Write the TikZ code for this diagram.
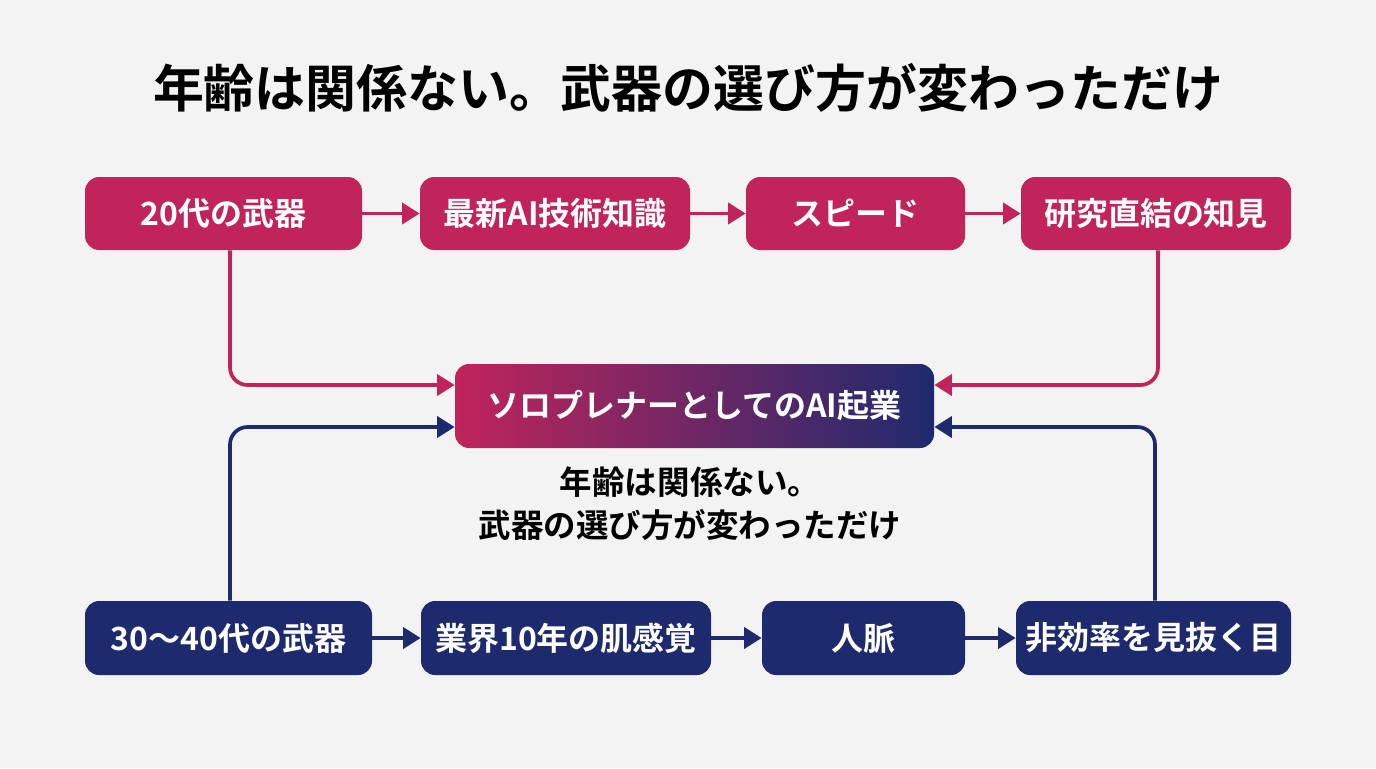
\documentclass[tikz,border=0pt]{standalone}
\usepackage{fontspec}
\setmainfont{Noto Sans CJK JP}[BoldFont={Noto Sans CJK JP Bold}]
\usetikzlibrary{arrows.meta}
\definecolor{crim}{HTML}{C0245A}
\definecolor{navy}{HTML}{1E2A6E}
\definecolor{bg}{HTML}{F3F3F3}
\begin{document}
\begin{tikzpicture}[x=0.02cm,y=-0.02cm,
  box/.style={rounded corners=8pt,text=white,font=\bfseries\fontsize{18.2}{21}\selectfont,inner sep=0pt},
  rb/.style={box,fill=crim},
  nb/.style={box,fill=navy},
  ra/.style={draw=crim,line width=2.1pt,-{Triangle[length=10pt,width=12pt]},rounded corners=10pt},
  na/.style={draw=navy,line width=2.1pt,-{Triangle[length=10pt,width=12pt]},rounded corners=10pt}]
\fill[bg] (0,0) rectangle (1376,768);
\useasboundingbox (0,0) rectangle (1376,768);
\node[font=\bfseries\fontsize{29}{34}\selectfont] (title) at (688,88) {年齢は関係ない。武器の選び方が変わっただけ};
% top row
\node[rb,minimum width=277*0.02cm,minimum height=73*0.02cm] (t1) at (223.5,213.5) {20代の武器};
\node[rb,minimum width=270*0.02cm,minimum height=73*0.02cm] (t2) at (555,213.5) {最新AI技術知識};
\node[rb,minimum width=219*0.02cm,minimum height=73*0.02cm] (t3) at (855.5,213.5) {スピード};
\node[rb,minimum width=270*0.02cm,minimum height=73*0.02cm] (t4) at (1156,213.5) {研究直結の知見};
% bottom row
\node[nb,minimum width=287*0.02cm,minimum height=74*0.02cm] (b1) at (228.5,638) {30〜40代の武器};
\node[nb,minimum width=290*0.02cm,minimum height=74*0.02cm] (b2) at (566,638) {業界10年の肌感覚};
\node[nb,minimum width=203*0.02cm,minimum height=74*0.02cm] (b3) at (863.5,638) {人脈};
\node[nb,minimum width=275*0.02cm,minimum height=74*0.02cm] (b4) at (1153.5,638) {非効率を見抜く目};
% center
\node[box,left color=crim,right color=navy,minimum width=479*0.02cm,minimum height=84*0.02cm] (c) at (694.5,406) {ソロプレナーとしてのAI起業};
\node[font=\bfseries\fontsize{18.5}{24.5}\selectfont,align=center] (sub) at (690,504) {年齢は関係ない。\\武器の選び方が変わっただけ};
% row arrows
\draw[ra] (t1) -- (t2);
\draw[ra] (t2) -- (t3);
\draw[ra] (t3) -- (t4);
\draw[na] (b1) -- (b2);
\draw[na] (b2) -- (b3);
\draw[na] (b3) -- (b4);
% to center
\draw[ra] (t1.south -| 230,0) |- ([yshift=0.42cm]c.west);
\draw[ra] (t4.south -| 1158,0) |- ([yshift=0.42cm]c.east);
\draw[na] (b1.north -| 230,0) |- ([yshift=-0.42cm]c.west);
\draw[na] (b4.north -| 1155,0) |- ([yshift=-0.42cm]c.east);
\end{tikzpicture}
\end{document}
